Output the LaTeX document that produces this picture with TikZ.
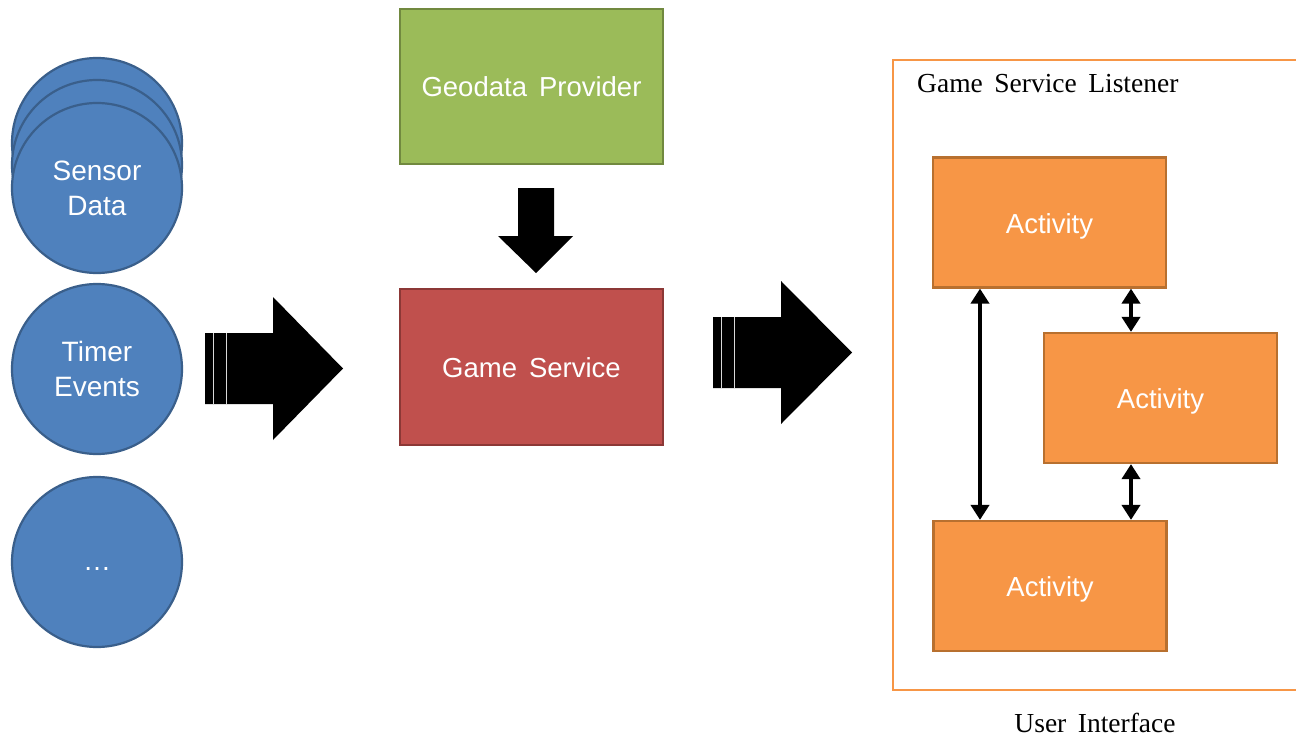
\documentclass[tikz,border=0pt]{standalone}
\usepackage{fontspec}
\setmainfont{Liberation Serif}
\newfontfamily\sansf{Liberation Sans}
\usetikzlibrary{arrows.meta}
\definecolor{srcFill}{HTML}{4F81BD}
\definecolor{srcLine}{HTML}{3A5F8B}
\definecolor{geoFill}{HTML}{9BBB59}
\definecolor{geoLine}{HTML}{71893F}
\definecolor{svcFill}{HTML}{C0504D}
\definecolor{svcLine}{HTML}{8C3836}
\definecolor{actFill}{HTML}{F79646}
\definecolor{actLine}{HTML}{B8702F}
\definecolor{frameLine}{HTML}{F79646}
% wide-spaced type for box labels and captions
\newcommand\boxfont{\sansf\fontsize{27.5}{33}\selectfont\spaceskip=12pt plus 1pt\relax}
\newcommand\capfont{\fontsize{27.5}{30}\selectfont\spaceskip=11.5pt plus 1pt\relax}
\begin{document}
\begin{tikzpicture}[x=1pt,y=-1pt,
  source/.style={circle, draw=srcLine, fill=srcFill, line width=2.2pt,
    minimum size=170pt, inner sep=0pt, text=white, align=center,
    font=\sansf\fontsize{28}{35}\selectfont},
  block/.style={rectangle, line width=2.2pt, text=white, font=\boxfont,
    text height=24pt, text depth=3pt},
  geobox/.style={block, draw=geoLine, fill=geoFill, minimum width=263pt, minimum height=155pt},
  svcbox/.style={block, draw=svcLine, fill=svcFill, minimum width=263pt, minimum height=156pt},
  actbox/.style={block, draw=actLine, fill=actFill, minimum width=233pt, minimum height=130pt},
  fat/.style={fill=black},
  stripe/.style={draw=white!85!black, line width=1pt},
  link/.style={line width=4.5pt, {Triangle[length=15pt,width=18pt]}-{Triangle[length=15pt,width=18pt]}},
  caption/.style={font=\capfont, inner sep=0pt}
]
\useasboundingbox (0,0) rectangle (1296,741);

% event sources
\node[source] (sensorC) at (97,143) {};
\node[source] (sensorB) at (97,165) {};
\node[source] (sensor) at (97,188) {Sensor\\Data};
\node[source] (timer) at (97,369) {Timer\\Events};
\node[source] (more) at (97,562) {\raisebox{-8pt}[0pt][0pt]{\dots}};

% central service
\node[geobox] (geo) at (531.5,86.5) {Geodata Provider};
\node[svcbox] (svc) at (531.5,367) {Game Service};

% listener frame (runs off the right edge)
\draw[draw=frameLine, line width=2.5pt] (1300,60) -- (893,60) -- (893,690) -- (1300,690);
\node[caption, anchor=base west] (lsn) at (917,93) {Game Service Listener};
\node[caption, anchor=base] (ui) at (1095,732) {User Interface};

% activities
\node[actbox] (act1) at (1049.5,222.5) {Activity};
\node[actbox] (act2) at (1160.5,398) {Activity};
\node[actbox] (act3) at (1050,586) {Activity};

\draw[link] ([xshift=-69.5pt]act1.south) -- ([xshift=-70pt]act3.north);
\draw[link] ([xshift=81.5pt]act1.south) -- ([xshift=-29.5pt]act2.north);
\draw[link] ([xshift=-29.5pt]act2.south) -- ([xshift=81pt]act3.north);

% block arrows
\fill[fat] (518,188) -- (554,188) -- (554,236) -- (573,236) -- (536,273)
  -- (498,236) -- (518,236) -- cycle;

\fill[fat] (205,333) -- (273,333) -- (273,297) -- (343,368.5) -- (273,440)
  -- (273,404) -- (205,404) -- cycle;
\draw[stripe] (213.5,333) -- (213.5,404);
\draw[stripe] (226.5,333) -- (226.5,404);

\fill[fat] (713,317) -- (781,317) -- (781,281) -- (852,352.5) -- (781,424)
  -- (781,388) -- (713,388) -- cycle;
\draw[stripe] (721.5,317) -- (721.5,388);
\draw[stripe] (734,317) -- (734,388);
\end{tikzpicture}
\end{document}
